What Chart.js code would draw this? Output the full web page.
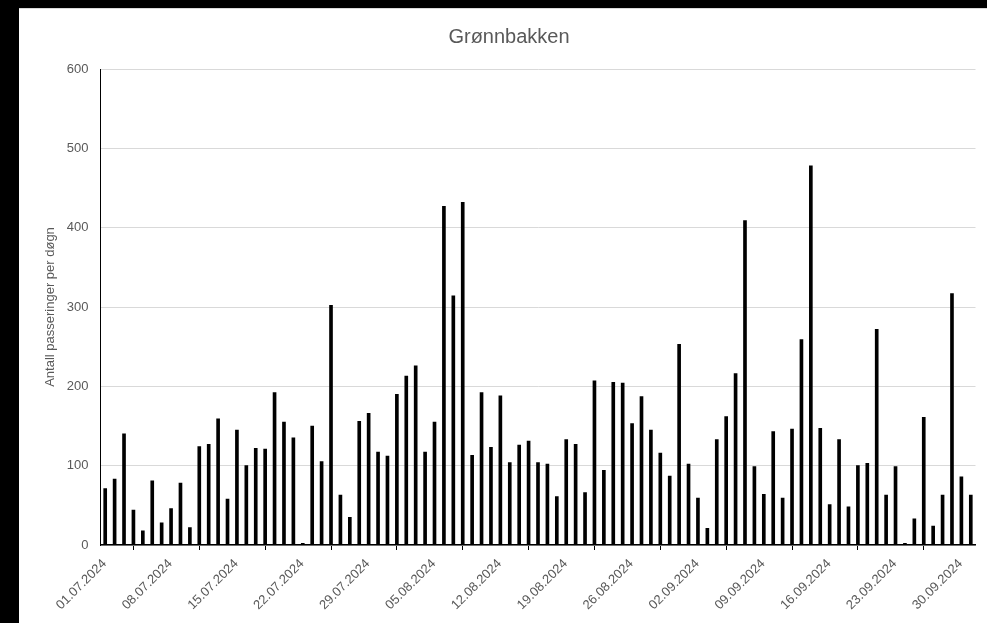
<!DOCTYPE html>
<html>
<head>
<meta charset="utf-8">
<script src="https://cdn.jsdelivr.net/npm/chart.js@4.4.1/dist/chart.umd.min.js"></script>
<style>
  html, body { margin: 0; padding: 0; background: #000; }
  #wrap { position: absolute; left: 19px; top: 8px; width: 968px; height: 615px; background: #fff; border-top: 1px solid #d9d9d9; box-sizing: border-box; }
  canvas { display: block; }
</style>
</head>
<body>
<div id="wrap"><canvas id="graph-1" width="968" height="614"></canvas></div>
<script>
// one bar per day, 01.07.2024 - 01.10.2024
const startDate = '2024-07-01';
const dayCount = 93;
const days = [];
for (let i = 0; i < dayCount; i++) {
    const d = new Date(startDate + 'T00:00:00Z');
    d.setUTCDate(d.getUTCDate() + i);
    const dd = String(d.getUTCDate()).padStart(2, '0');
    const mm = String(d.getUTCMonth() + 1).padStart(2, '0');
    days.push(dd + '.' + mm + '.' + d.getUTCFullYear());
}

const passings = [
    71, 83, 140, 44, 18, 81, 28, 46, 78, 22,
    124, 127, 159, 58, 145, 100, 122, 121, 192, 155,
    135, 2, 150, 105, 302, 63, 35, 156, 166, 117,
    112, 190, 213, 226, 117, 155, 427, 314, 432, 113,
    192, 123, 188, 104, 126, 131, 104, 102, 61, 133,
    127, 66, 207, 94, 205, 204, 153, 187, 145, 116,
    87, 253, 102, 59, 21, 133, 162, 216, 409, 99,
    64, 143, 59, 146, 259, 478, 147, 51, 133, 48,
    100, 103, 272, 63, 99, 2, 33, 161, 24, 63,
    317, 86, 63
];

const tickLabels = ['01.07.2024', '08.07.2024', '15.07.2024', '22.07.2024', '29.07.2024',
    '05.08.2024', '12.08.2024', '19.08.2024', '26.08.2024', '02.09.2024',
    '09.09.2024', '16.09.2024', '23.09.2024', '30.09.2024'];
const yTicks = [0, 100, 200, 300, 400, 500, 600];

const grey = '#595959';
const font = 'Liberation Sans';

const ctx = document.getElementById('graph-1').getContext('2d');
const chart = new Chart(ctx, {
    type: 'bar',
    data: {
        datasets: [{
            label: 'Antall passeringer per døgn',
            data: passings.map((v, i) => ({ x: i + 0.5, y: v })),
            backgroundColor: '#000',
            barThickness: 3
        }]
    },
    options: {
        responsive: false,
        animation: false,
        devicePixelRatio: 1,
        layout: { padding: { left: 23.5, right: 11.5, top: 0, bottom: 0 } },
        plugins: {
            legend: { display: false },
            tooltip: { enabled: false },
            title: {
                display: true,
                text: 'Grønnbakken',
                color: grey,
                font: { family: font, size: 20, weight: 'normal' },
                padding: { top: 16, bottom: 20 }
            }
        },
        scales: {
            x: {
                type: 'linear',
                min: 0,
                max: dayCount,
                offset: false,
                afterBuildTicks: s => { s.ticks = tickLabels.map(l => ({ value: days.indexOf(l) })); },
                afterFit: s => { s.height = 78; },
                ticks: {
                    autoSkip: false,
                    minRotation: 45,
                    maxRotation: 45,
                    padding: 6,
                    labelOffset: 4,
                    color: grey,
                    font: { family: font, size: 13 },
                    callback: v => days[v]
                },
                grid: { drawOnChartArea: false, drawTicks: true, tickLength: 5, color: '#000', lineWidth: 1 },
                border: { display: true, color: '#000', width: 1.5 }
            },
            y: {
                min: 0,
                max: 600,
                afterBuildTicks: s => { s.ticks = yTicks.map(v => ({ value: v })); },
                afterFit: s => { s.width = 58; },
                ticks: {
                    padding: 12,
                    color: grey,
                    font: { family: font, size: 13 }
                },
                grid: { color: '#d9d9d9', lineWidth: 1, drawTicks: false },
                border: { display: true, color: '#000', width: 1 },
                title: {
                    display: true,
                    text: 'Antall passeringer per døgn',
                    color: grey,
                    font: { family: font, size: 13 },
                    padding: { top: 0, bottom: 0 }
                }
            }
        }
    }
});
</script>
</body>
</html>
